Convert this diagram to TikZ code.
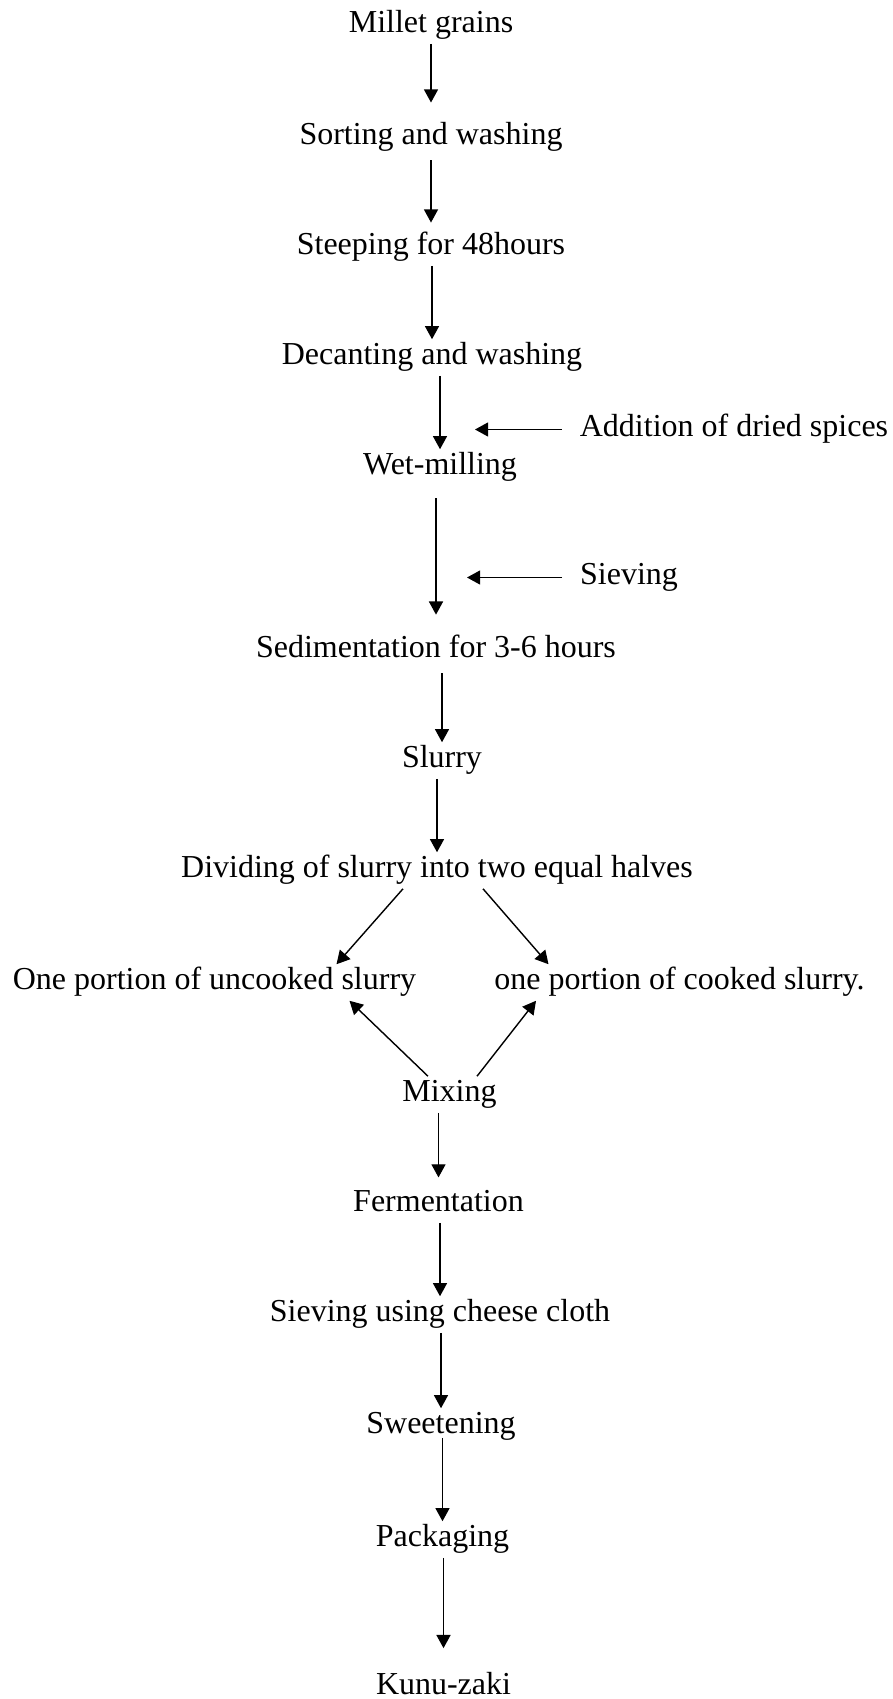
\documentclass[tikz,border=0pt]{standalone}
\usepackage{fontspec}
\setmainfont{Liberation Serif}
\usetikzlibrary{arrows.meta}

\begin{document}
\begin{tikzpicture}[x=1cm,y=1cm,
  stage/.style={font=\fontsize{18.2}{22}\selectfont,text height=12.4pt,text depth=4pt,inner sep=2pt},
  flow/.style={-{Triangle[length=7.5pt,width=8pt]},line width=0.8pt}]
\useasboundingbox (0,0) rectangle (17.84,-33.98);
\node[stage] (grains) at (8.62,-0.51) {Millet grains};
\node[stage] (sorting) at (8.62,-2.75) {Sorting and washing};
\node[stage] (steeping) at (8.62,-4.95) {Steeping for 48hours};
\node[stage] (decanting) at (8.64,-7.15) {Decanting and washing};
\node[stage] (wetmill) at (8.80,-9.35) {Wet-milling};
\node[stage] (spices) at (14.68,-8.59) {Addition of dried spices};
\node[stage] (sieving) at (12.58,-11.55) {Sieving};
\node[stage] (sediment) at (8.72,-13.01) {Sedimentation for 3-6 hours};
\node[stage] (slurry) at (8.84,-15.21) {Slurry};
\node[stage] (dividing) at (8.74,-17.41) {Dividing of slurry into two equal halves};
\node[stage] (uncooked) at (4.29,-19.65) {One portion of uncooked slurry};
\node[stage] (cooked) at (13.59,-19.65) {one portion of cooked slurry.};
\node[stage] (mixing) at (8.99,-21.89) {Mixing};
\node[stage] (ferment) at (8.77,-24.09) {Fermentation};
\node[stage] (cheese) at (8.80,-26.29) {Sieving using cheese cloth};
\node[stage] (sweet) at (8.82,-28.53) {Sweetening};
\node[stage] (packaging) at (8.85,-30.79) {Packaging};
\node[stage] (kunu) at (8.87,-33.75) {Kunu-zaki};
\coordinate (spiceTip) at (9.50,-8.59);
\coordinate (sieveTip) at (9.34,-11.55);
\draw[flow,shorten >=9.5pt] (grains.south -| sorting) -- (sorting);
\draw[flow,shorten <=2.6pt,shorten >=3.8pt] (sorting.south -| steeping) -- (steeping);
\draw[flow] (steeping.south -| decanting) -- (decanting);
\draw[flow] (decanting.south -| wetmill) -- (wetmill);
\draw[flow,shorten <=7pt,shorten >=10pt] (wetmill.south -| sediment) -- (sediment);
\draw[flow,shorten <=2.6pt] (sediment.south -| slurry) -- (slurry);
\draw[flow] (slurry.south -| dividing) -- (dividing);
\draw[flow,shorten <=8pt] (spices.west) -- (spiceTip);
\draw[flow,shorten <=8pt] (sieving.west) -- (sieveTip);
\draw[flow] ([xshift=-0.68cm]dividing.south) -- ([xshift=2.44cm]uncooked.north);
\draw[flow] ([xshift=0.92cm]dividing.south) -- ([xshift=-2.62cm]cooked.north);
\draw[flow] ([xshift=-0.43cm]mixing.north) -- ([xshift=2.70cm]uncooked.south);
\draw[flow] ([xshift=0.55cm]mixing.north) -- ([xshift=-2.87cm]cooked.south);
\draw[flow,shorten >=5pt] (mixing.south -| ferment) -- (ferment);
\draw[flow] (ferment.south -| cheese) -- (cheese);
\draw[flow] (cheese.south -| sweet) -- (sweet);
\draw[flow,shorten <=-4pt] (sweet.south -| packaging) -- (packaging);
\draw[flow,shorten >=12pt] (packaging.south -| kunu) -- (kunu);
\end{tikzpicture}
\end{document}
